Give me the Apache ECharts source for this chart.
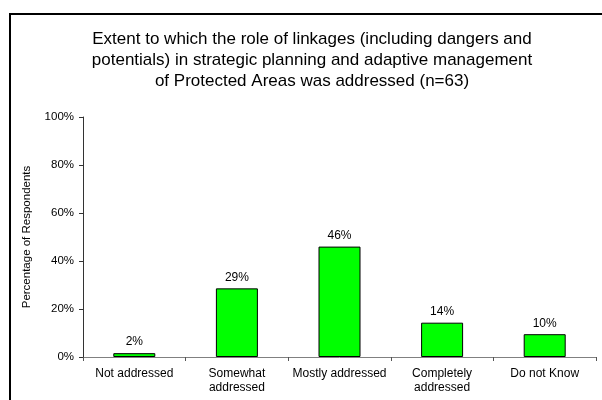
<!DOCTYPE html>
<html>
<head>
<meta charset="utf-8">
<script src="https://cdn.jsdelivr.net/npm/echarts@6/dist/echarts.min.js"></script>
<style>
  html, body { margin: 0; padding: 0; background: #fff; }
  #chart { width: 602px; height: 400px; }
</style>
</head>
<body>
<div id="chart"></div>
<script>
// 数据
var categories = ['Not addressed', 'Somewhat\naddressed', 'Mostly addressed', 'Completely\naddressed', 'Do not Know']
var values = [1.6, 28.6, 46.0, 14.3, 9.5]
var yTicks = [0, 20, 40, 60, 80, 100]

var chart = echarts.init(document.getElementById('chart'))
chart.setOption({
  animation: false,
  textStyle: { fontFamily: 'Liberation Sans, Arial, sans-serif' },
  graphic: [
    {
      type: 'rect',
      shape: { x: 10, y: 14, width: 700, height: 500 },
      style: { fill: 'none', stroke: '#000', lineWidth: 2 }
    }
  ],
  title: {
    text: 'Extent to which the role of linkages (including dangers and\npotentials) in strategic planning and adaptive management\nof Protected Areas was addressed (n=63)',
    left: 307,
    top: 24,
    textAlign: 'center',
    textStyle: {
      fontSize: 17,
      fontWeight: 'normal',
      color: '#000',
      lineHeight: 21,
      fontFamily: 'Liberation Sans, Arial, sans-serif'
    }
  },
  grid: {
    left: 83,
    right: 6,
    top: 117,
    bottom: 43
  },
  xAxis: {
    type: 'category',
    data: categories,
    axisLine: { lineStyle: { color: '#808080', width: 1 } },
    axisTick: { show: true, length: 4, lineStyle: { color: '#555' } },
    axisLabel: {
      color: '#000',
      fontSize: 12,
      lineHeight: 13.5,
      margin: 10,
      interval: 0
    }
  },
  yAxis: {
    type: 'value',
    min: 0,
    max: 100,
    interval: 20,
    name: 'Percentage of Respondents',
    nameLocation: 'middle',
    nameGap: 50,
    nameTextStyle: { color: '#000', fontSize: 11.5 },
    axisLine: { show: true, lineStyle: { color: '#333', width: 1 } },
    axisTick: { show: true, length: 4, lineStyle: { color: '#333' } },
    axisLabel: {
      color: '#000',
      fontSize: 11.5,
      margin: 9,
      formatter: function (v) {
        return yTicks.indexOf(v) >= 0 ? v + '%' : ''
      }
    },
    splitLine: { show: false }
  },
  series: [
    {
      type: 'bar',
      data: values,
      barWidth: 42,
      itemStyle: { color: '#00ff00', borderColor: '#000', borderWidth: 1 },
      label: {
        show: true,
        position: 'top',
        distance: 5,
        color: '#000',
        fontSize: 12,
        formatter: function (p) {
          return Math.round(p.value) + '%'
        }
      }
    }
  ]
})
</script>
</body>
</html>
